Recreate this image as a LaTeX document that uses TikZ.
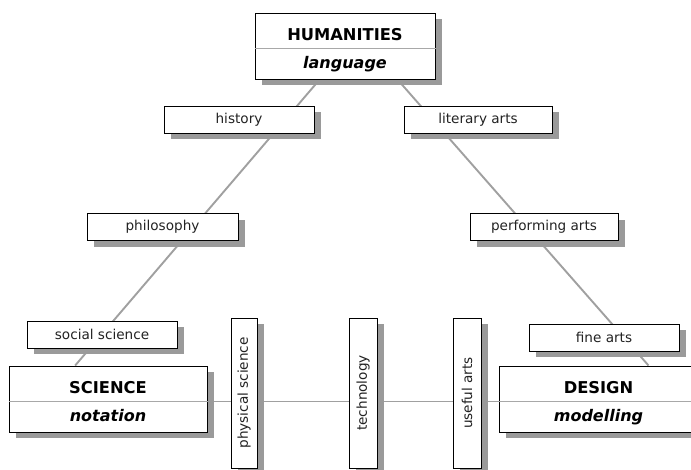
\documentclass[tikz,border=0pt]{standalone}
\usepackage{fontspec}
\setmainfont{DejaVu Sans}
\usetikzlibrary{shadows,calc}
\definecolor{shade}{HTML}{9A9A9A}
\definecolor{linkc}{HTML}{A0A0A0}
\definecolor{divc}{HTML}{A8A8A8}
\definecolor{txt}{HTML}{222222}
\pgfdeclarelayer{background}
\pgfsetlayers{background,main}
\tikzset{
  box/.style={draw=black, line width=1pt, fill=white, inner sep=0pt,
    drop shadow={shadow xshift=6.5pt, shadow yshift=-6pt, fill=shade, opacity=1}},
  lbl/.style={box, minimum width=150pt, minimum height=27pt, text=txt, font=\fontsize{13.6}{13.6}\selectfont},
  vlbl/.style={box, minimum width=27pt, minimum height=150pt, text=txt, font=\fontsize{13.6}{13.6}\selectfont},
  big/.style={box, minimum width=198pt, minimum height=66pt},
  linkline/.style={draw=linkc, line width=1.9pt},
  divider/.style={draw=divc, line width=0.7pt},
  title/.style={font=\fontsize{16.3}{16.3}\selectfont\bfseries, inner sep=0pt, anchor=base},
  subt/.style={font=\fontsize{16}{16}\selectfont\bfseries\itshape, inner sep=0pt, anchor=base},
}
\begin{document}
\begin{tikzpicture}[x=1pt,y=-1pt]
\useasboundingbox (0,0) rectangle (691,469);

% big boxes
\node[big, minimum width=180pt] (hum) at (345,46) {};
\node[big] (sci) at (108,399) {};
\node[big, minimum width=199pt] (des) at (598.5,399) {};

\node[title] (humT) at ($(hum.north)+(0,28)$) {HUMANITIES};
\node[subt] (humS) at ($(hum.north)+(0,56)$) {language};
\node[title] (sciT) at ($(sci.north)+(0,28)$) {SCIENCE};
\node[subt] (sciS) at ($(sci.north)+(0,56)$) {notation};
\node[title] (desT) at ($(des.north)+(0,28)$) {DESIGN};
\node[subt] (desS) at ($(des.north)+(0,56)$) {modelling};

\draw[divider] ($(hum.north west)+(0,35.5)$) -- ($(hum.north east)+(0,35.5)$);
\draw[divider] ($(sci.north west)+(0,36)$) -- ($(sci.north east)+(0,36)$);
\draw[divider] ($(des.north west)+(0,36)$) -- ($(des.north east)+(0,36)$);

% small labels
\node[lbl] (hist) at (239,119.5) {history};
\node[lbl, minimum width=148pt] (lit) at (478,119.5) {literary arts};
\node[lbl, minimum width=151pt] (phil) at (162.5,227) {philosophy};
\node[lbl, minimum width=148pt] (perf) at (544,227) {performing arts};
\node[lbl] (soc) at (102,334.5) {social science};
\node[lbl] (fine) at (604,337.5) {fine arts};

% vertical labels
\node[vlbl, minimum width=26pt] (phys) at (244,393) {\rotatebox{90}{physical science}};
\node[vlbl, minimum width=28pt] (tech) at (363,393) {\rotatebox{90}{technology}};
\node[vlbl, minimum width=28pt] (use) at (467,393) {\rotatebox{90}{useful arts}};

% connectors
\begin{pgfonlayer}{background}
\coordinate (hl) at ($(hum.south west)!0.36!(hum.south east)$);
\coordinate (hr) at ($(hum.south west)!0.79!(hum.south east)$);
\coordinate (sl) at ($(sci.north west)!0.335!(sci.north east)$);
\coordinate (dr) at ($(des.north west)!0.75!(des.north east)$);
\draw[linkline] (hl) -- (sl);
\draw[linkline] (hr) -- (dr);
\draw[linkline] ($(sci.north east)+(0,36)$) -- ($(des.north west)+(0,36)$);
\end{pgfonlayer}
\end{tikzpicture}
\end{document}
